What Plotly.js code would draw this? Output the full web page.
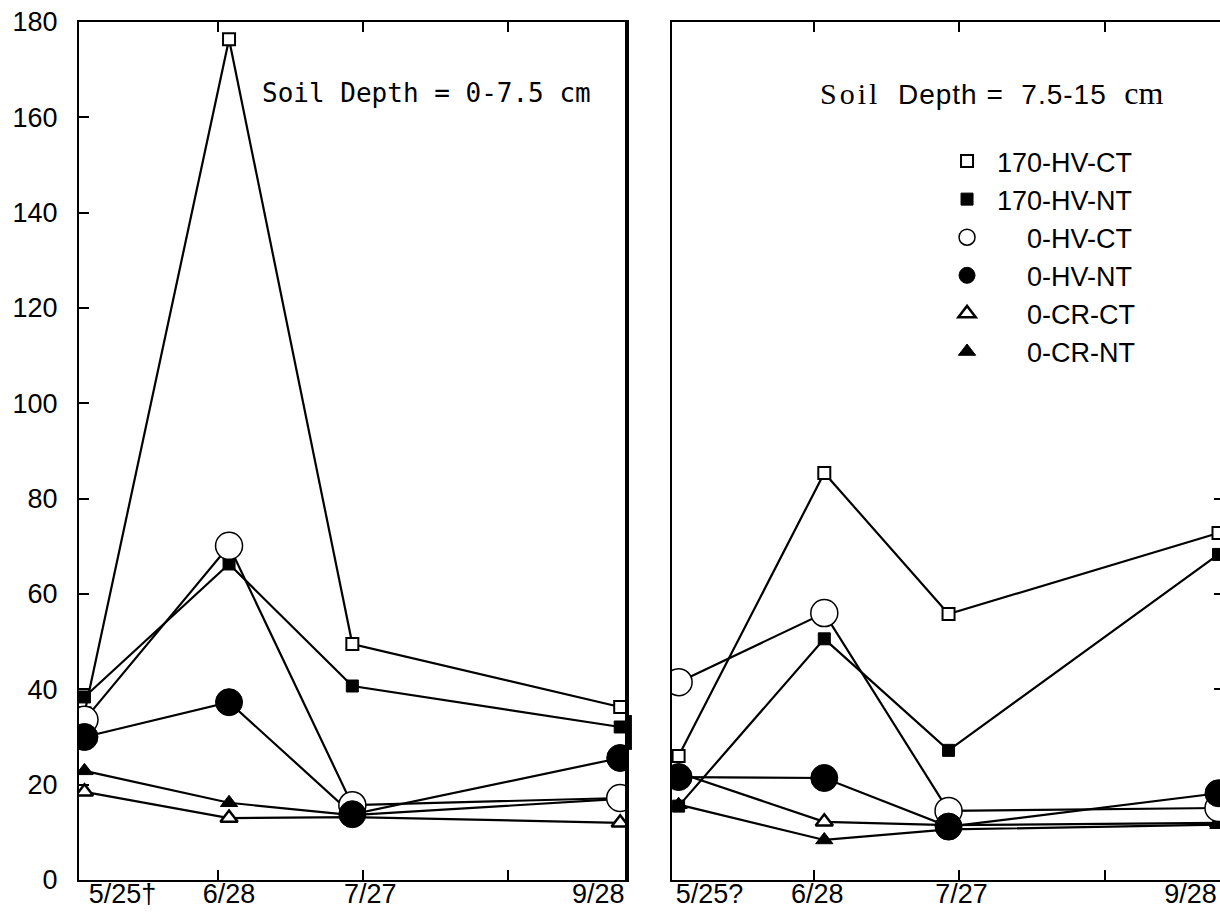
<!DOCTYPE html>
<html>
<head>
<meta charset="utf-8">
<script src="https://cdn.plot.ly/plotly-3.0.1.min.js"></script>
<style>
  html, body { margin: 0; padding: 0; background: #fff; }
  #chart { width: 1220px; height: 917px; }
</style>
</head>
<body>
<div id="chart"></div>
<script>
// Sampling dates as day of year (5/25, 6/28, 7/27, 9/28)
const sampleDays = [145, 179, 208, 271];
const labelsTop = ['5/25\u2020', '6/28', '7/27', '9/28'];
const labelsSub = ['5/25?', '6/28', '7/27', '9/28'];
const tickMarkDays = [176.5, 210.5, 244.5];

const seriesNames = ['170-HV-CT', '170-HV-NT', '0-HV-CT', '0-HV-NT', '0-CR-CT', '0-CR-NT'];

// Soil depth 0-7.5 cm
const top170HVCT = [35.0, 176.4, 49.5, 36.3];
const top170HVNT = [38.4, 66.3, 40.7, 32.1];
const top0HVCT   = [33.6, 70.1, 15.7, 17.2];
const top0HVNT   = [30.0, 37.3, 13.8, 25.6];
const top0CRCT   = [18.5, 13.0, 13.2, 12.0];
const top0CRNT   = [22.9, 16.2, 13.6, 17.0];

// Soil depth 7.5-15 cm
const sub170HVCT = [26.0, 85.4, 55.8, 72.8];
const sub170HVNT = [15.5, 50.6, 27.2, 68.3];
const sub0HVCT   = [41.5, 56.0, 14.5, 15.1];
const sub0HVNT   = [21.6, 21.4, 11.2, 18.2];
const sub0CRCT   = [22.5, 12.2, 11.5, 12.0];
const sub0CRNT   = [15.8, 8.4, 10.6, 11.6];

const topSeries = [top170HVCT, top170HVNT, top0HVCT, top0HVNT, top0CRCT, top0CRNT];
const subSeries = [sub170HVCT, sub170HVNT, sub0HVCT, sub0HVNT, sub0CRCT, sub0CRNT];

// Legend text is right-aligned: the shorter names get two figure spaces in front
const FS = '\u2007';
const legendNames = seriesNames.map(n => n.startsWith('170') ? n : FS + FS + n);

// Marker look for each treatment
const markerStyles = [
  {symbol: 'square', size: 12, color: '#ffffff', line: {color: '#000', width: 2}},
  {symbol: 'square', size: 12, color: '#000000', line: {color: '#000', width: 1}},
  {symbol: 'circle', size: 27, color: '#ffffff', line: {color: '#000', width: 1.5}},
  {symbol: 'circle', size: 27, color: '#000000', line: {color: '#000', width: 1}},
  {symbol: 'triangle-up', size: 15, color: '#ffffff', line: {color: '#000', width: 2.5}},
  {symbol: 'triangle-up', size: 15, color: '#000000', line: {color: '#000', width: 1}}
];
// triangles go underneath, circles on top
const drawOrder = [4, 5, 0, 1, 2, 3];

const traces = [];
function addPanel(series, xa, ya, withLegend) {
  series.forEach((vals, i) => {
    traces.push({
      x: sampleDays, y: vals, xaxis: xa, yaxis: ya,
      type: 'scatter', mode: 'lines',
      line: {color: '#000', width: 2.2},
      showlegend: false, legendgroup: seriesNames[i], hoverinfo: 'skip'
    });
  });
  drawOrder.forEach(i => {
    traces.push({
      x: sampleDays, y: series[i], xaxis: xa, yaxis: ya,
      type: 'scatter', mode: 'markers',
      name: legendNames[i], legendgroup: seriesNames[i], legendrank: i + 1,
      marker: markerStyles[i],
      showlegend: withLegend
    });
  });
}
addPanel(topSeries, 'x', 'y', true);
addPanel(subSeries, 'x2', 'y2', false);

// empty trace that only registers an overlay axis pair so the axis gets drawn
function registerAxes(xa, ya) {
  traces.push({x: [], y: [], xaxis: xa, yaxis: ya, type: 'scatter', mode: 'markers',
               showlegend: false, hoverinfo: 'skip'});
}

const sans = 'Liberation Sans, Arial, sans-serif';
const rangeTop = [143.71, 272.6];
const rangeSub = [143.46, 271.35];

const axisCommon = {
  showgrid: false, zeroline: false,
  showline: true, linecolor: '#000', linewidth: 2,
  color: '#000'
};
const xCommon = Object.assign({}, axisCommon, {
  tickmode: 'array', tickvals: sampleDays, ticks: '', showticklabels: false,
  mirror: 'ticks',
  minor: {tickmode: 'array', tickvals: tickMarkDays, ticks: 'inside', ticklen: 10, tickwidth: 2, tickcolor: '#000'}
});

const layout = {
  width: 1220, height: 917,
  margin: {l: 79, r: 0, t: 22, b: 37},
  paper_bgcolor: '#fff', plot_bgcolor: '#fff',
  showlegend: true,
  legend: {
    x: 0.752, xanchor: 'left', y: 0.866, yanchor: 'top',
    bgcolor: 'rgba(0,0,0,0)', borderwidth: 0,
    font: {family: sans, size: 27, color: '#000'},
    itemwidth: 50, tracegroupgap: 0, traceorder: 'normal'
  },
  xaxis: Object.assign({}, xCommon, {domain: [0, 0.48028], range: rangeTop, anchor: 'y'}),
  yaxis: Object.assign({}, axisCommon, {
    domain: [0, 1], range: [0, 180], anchor: 'x',
    tickmode: 'linear', tick0: 0, dtick: 20,
    ticks: 'inside', ticklen: 10, tickwidth: 2, tickcolor: '#000',
    mirror: true,
    tickfont: {family: sans, size: 27, color: '#000'},
    ticklabelstandoff: 14
  }),
  xaxis2: Object.assign({}, xCommon, {domain: [0.51972, 1], range: rangeSub, anchor: 'y2'}),
  yaxis2: Object.assign({}, axisCommon, {
    domain: [0, 1], range: [0, 180], anchor: 'x2',
    ticks: '', showticklabels: false, mirror: false
  }),
  // right-hand tick marks of the deeper panel
  yaxis3: {
    overlaying: 'y2', anchor: 'x2', side: 'right', range: [0, 180],
    tickmode: 'array', tickvals: [40, 60, 80],
    ticks: 'inside', ticklen: 6, tickwidth: 2, tickcolor: '#000',
    showticklabels: false, showline: false, showgrid: false, zeroline: false
  },
  shapes: [
    {type: 'line', xref: 'x domain', yref: 'y domain', x0: 1, x1: 1, y0: 0, y1: 1,
     line: {color: '#000', width: 4}},
    {type: 'rect', xref: 'x domain', yref: 'y', x0: 1, x1: 1.009, y0: 27.3, y1: 34.6,
     fillcolor: '#000', line: {width: 0}}
  ],
  annotations: [
    {xref: 'x domain', yref: 'y domain', x: 0.3303, y: 0.9172, xanchor: 'left', yanchor: 'middle',
     showarrow: false, text: 'Soil Depth = 0-7.5 cm',
     font: {family: 'DejaVu Sans Mono, monospace', size: 26, color: '#000'}},
    {xref: 'x2 domain', yref: 'y2 domain', x: 0.2664, y: 0.9172, xanchor: 'left', yanchor: 'middle',
     showarrow: false,
     text: '<span style="font-family:Liberation Serif;font-size:30px;letter-spacing:3px">Soil</span>' +
           '<span style="letter-spacing:1px">\u00a0\u00a0Depth\u00a0=\u00a0\u00a07.5-15\u00a0\u00a0</span>' +
           '<span style="font-family:Liberation Serif;font-size:32px">cm</span>',
     font: {family: sans, size: 28, color: '#000'}}
  ]
};
registerAxes('x2', 'y3');

// Each date label sits on its own overlay axis so it can be nudged sideways
const labelShiftTop = [38, 0, 18, -22];
const labelShiftSub = [31, -7, 13, -28];
let axisNo = 3;
function addLabelAxes(baseX, baseY, range, labels, shifts) {
  labels.forEach((txt, i) => {
    const id = 'x' + axisNo;
    layout['xaxis' + axisNo] = {
      overlaying: baseX, anchor: baseY, side: 'bottom', range: range,
      tickmode: 'array', tickvals: [sampleDays[i]], ticktext: [txt],
      ticks: '', showline: false, showgrid: false, zeroline: false,
      tickfont: {family: sans, size: 27, color: '#000'},
      ticklabelstandoff: -5, ticklabelshift: shifts[i], ticklabeloverflow: 'allow'
    };
    registerAxes(id, baseY);
    axisNo += 1;
  });
}
addLabelAxes('x', 'y', rangeTop, labelsTop, labelShiftTop);
addLabelAxes('x2', 'y2', rangeSub, labelsSub, labelShiftSub);

Plotly.newPlot('chart', traces, layout, {displayModeBar: false, staticPlot: true});
</script>
</body>
</html>
